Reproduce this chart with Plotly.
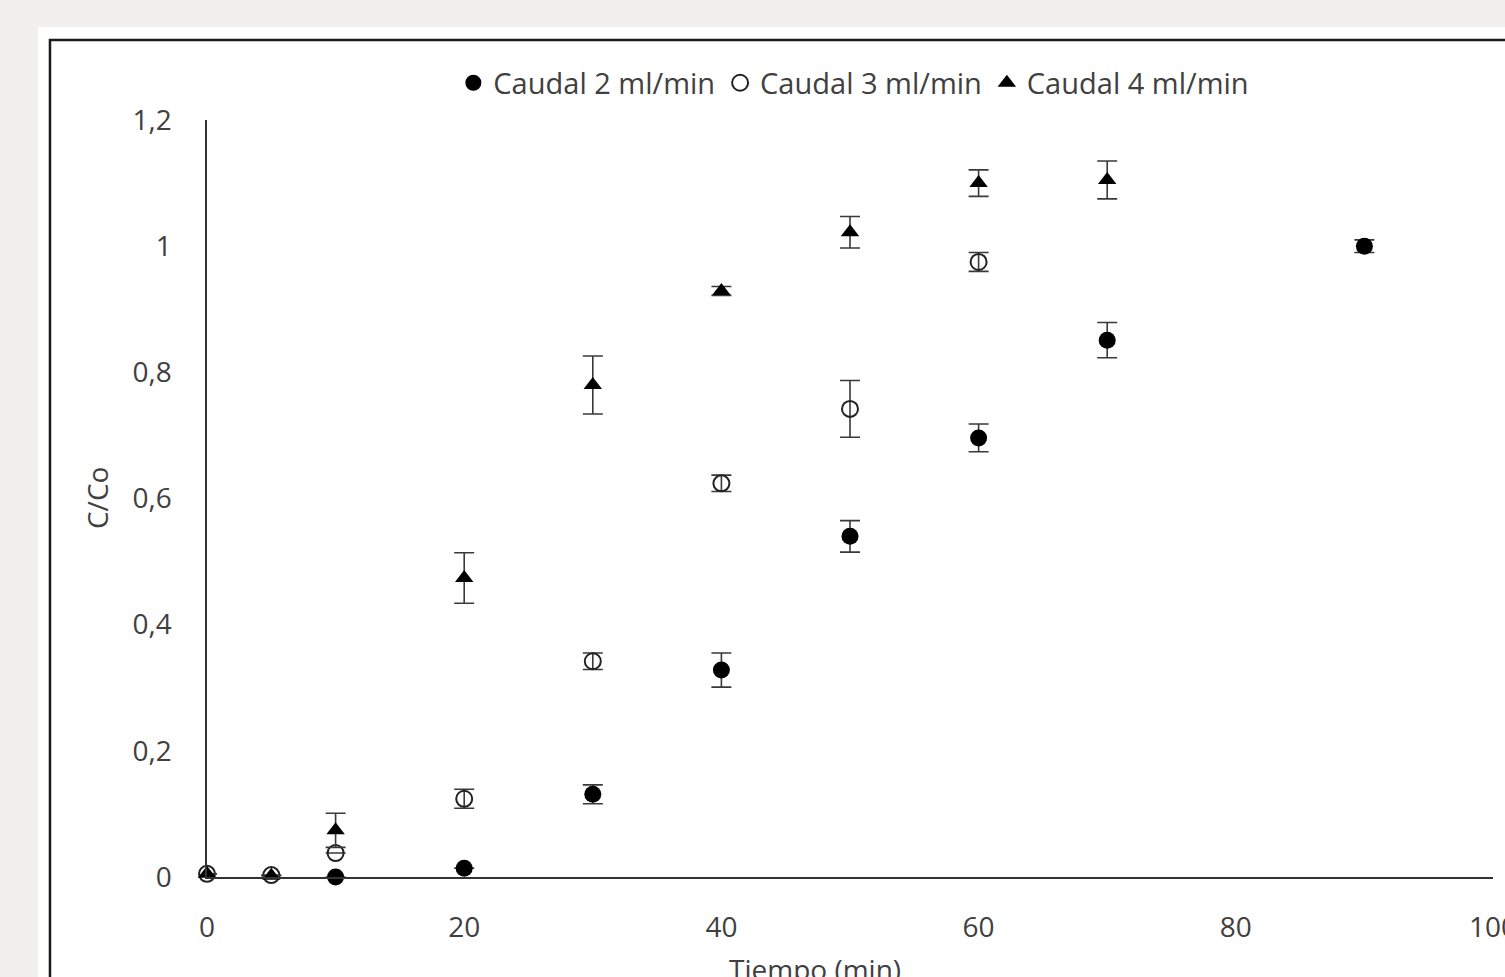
import plotly.graph_objects as go

# ---- data ----
tiempo_2 = [10, 20, 30, 40, 50, 60, 70, 90]
cc_2 = [0.0, 0.014, 0.131, 0.328, 0.540, 0.696, 0.851, 1.000]
err_2 = [0.0, 0.0, 0.015, 0.027, 0.025, 0.022, 0.028, 0.010]

tiempo_3 = [0, 5, 10, 20, 30, 40, 50, 60]
cc_3 = [0.005, 0.003, 0.038, 0.124, 0.342, 0.624, 0.742, 0.975]
err_3 = [0.0, 0.0, 0.0, 0.015, 0.013, 0.013, 0.045, 0.015]

tiempo_4 = [0, 5, 10, 20, 30, 40, 50, 60, 70]
cc_4 = [0.005, 0.002, 0.074, 0.474, 0.780, 0.929, 1.022, 1.100, 1.105]
err_4 = [0.0, 0.0, 0.027, 0.040, 0.046, 0.007, 0.025, 0.021, 0.030]

series_names = ["Caudal 2 ml/min", "Caudal 3 ml/min", "Caudal 4 ml/min"]

x_tickvals = [0, 20, 40, 60, 80, 100]
x_ticktext = ["0", "20", "40", "60", "80", "100"]
y_tickvals = [0, 0.2, 0.4, 0.6, 0.8, 1.0, 1.2]
y_ticktext = ["0", "0,2", "0,4", "0,6", "0,8", "1", "1,2"]

FONT = "'Open Sans', Lato, sans-serif"
FS = 28
FS_LEG = 29
TXT = "#404040"
ERRC = "#3a3a3a"
BG = "#f1f0ee"

fig = go.Figure()

fig.add_trace(go.Scatter(
    x=tiempo_2, y=cc_2, mode="markers", name=series_names[0],
    marker=dict(symbol="circle", size=17, color="black", line=dict(width=0)),
    error_y=dict(type="data", array=err_2, visible=True, color=ERRC, thickness=1.6, width=10),
    cliponaxis=False,
))
fig.add_trace(go.Scatter(
    x=tiempo_3, y=cc_3, mode="markers", name=series_names[1],
    marker=dict(symbol="circle-open", size=16, color="#222222", line=dict(width=2)),
    error_y=dict(type="data", array=err_3, visible=True, color=ERRC, thickness=1.6, width=10),
    cliponaxis=False,
))
fig.add_trace(go.Scatter(
    x=tiempo_4, y=cc_4, mode="markers", name=series_names[2],
    marker=dict(symbol="triangle-up", size=16, color="black", line=dict(width=0)),
    error_y=dict(type="data", array=err_4, visible=True, color=ERRC, thickness=1.6, width=10),
    cliponaxis=False,
))

# white chart area and black frame (extending past the picture edges)
fig.add_shape(type="rect", xref="paper", yref="paper", layer="below",
              x0=-0.1314, x1=1.2, y0=-0.3, y1=1.123,
              fillcolor="white", line=dict(width=0))
fig.add_shape(type="rect", xref="paper", yref="paper", layer="below",
              x0=-0.1221, x1=1.2, y0=-0.3, y1=1.1057,
              fillcolor="rgba(0,0,0,0)", line=dict(color="#1a1a1a", width=2.5))

fig.add_annotation(text="C/Co", xref="paper", yref="paper", x=-0.0855, y=0.5007,
                   textangle=-90, showarrow=False, xanchor="center", yanchor="middle",
                   font=dict(family=FONT, size=FS, color=TXT))
fig.add_annotation(text="Tiempo (min)", xref="paper", yref="paper", x=0.473, y=-0.122,
                   showarrow=False, xanchor="center", yanchor="middle",
                   font=dict(family=FONT, size=FS, color=TXT))

fig.update_layout(
    width=1505, height=977,
    margin=dict(l=207, r=12, t=120, b=100, autoexpand=False),
    paper_bgcolor=BG,
    plot_bgcolor="white",
    font=dict(family=FONT, size=FS, color=TXT),
    showlegend=True,
    legend=dict(orientation="h", x=0.503, xanchor="center", y=1.049, yanchor="middle",
                bgcolor="rgba(0,0,0,0)", font=dict(family=FONT, size=FS_LEG, color=TXT),
                itemwidth=30, tracegroupgap=0),
    xaxis=dict(range=[0, 100], tickvals=x_tickvals, ticktext=x_ticktext,
               showgrid=False, zeroline=False, showline=True, linecolor="#333333",
               linewidth=2, ticks="", ticklabelstandoff=24, ticklabeloverflow="allow",
               automargin=False,
               tickfont=dict(family=FONT, size=FS, color=TXT)),
    yaxis=dict(range=[0, 1.2], tickvals=y_tickvals, ticktext=y_ticktext,
               showgrid=False, zeroline=False, showline=True, linecolor="#333333",
               linewidth=1.5, ticks="", ticklabelstandoff=28, ticklabeloverflow="allow",
               automargin=False,
               tickfont=dict(family=FONT, size=FS, color=TXT)),
)

fig.write_html(
    "out.html",
    config={"displayModeBar": False},
    post_script="document.body.style.margin='0';document.body.style.background='" + BG + "';",
)
